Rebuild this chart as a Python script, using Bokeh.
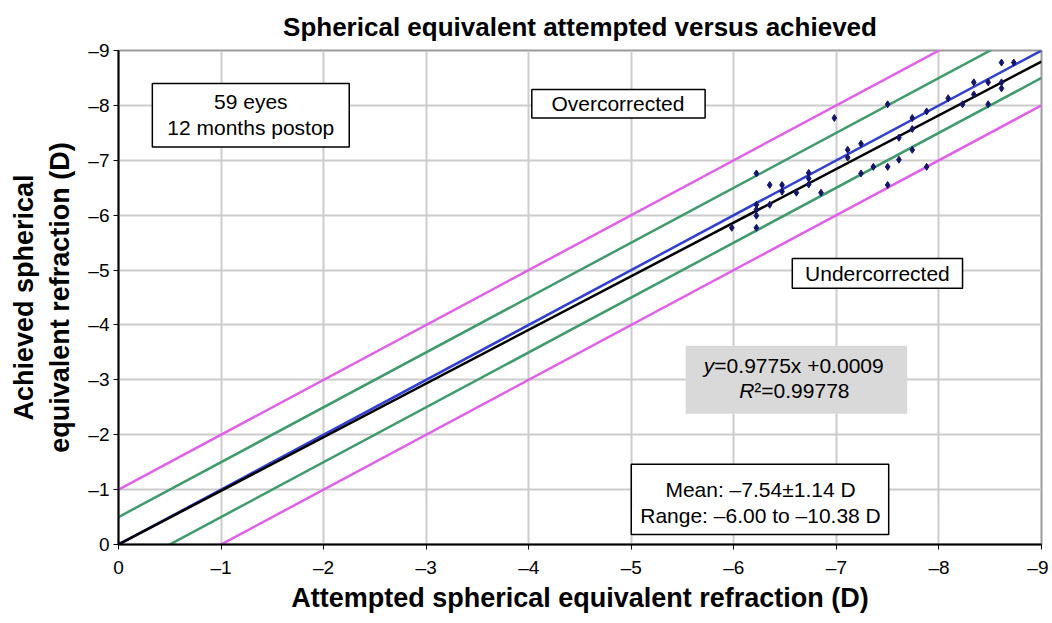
from bokeh.plotting import figure
from bokeh.models import FixedTicker, BoxAnnotation, Label
from bokeh.embed import file_html
from bokeh.resources import INLINE

# ---- data (attempted, achieved) shown as positive magnitudes, labelled negative ----
attempted = [0.00, 5.98, 6.22, 6.22, 6.22, 6.22, 6.22, 6.35, 6.35, 6.47, 6.47,
             6.61, 6.73, 6.73, 6.73, 6.85, 6.98, 7.11, 7.11, 7.24, 7.24, 7.36,
             7.50, 7.50, 7.50, 7.61, 7.61, 7.74, 7.74, 7.74, 7.88, 7.88, 8.09,
             8.23, 8.34, 8.34, 8.48, 8.48, 8.61, 8.61, 8.61, 8.73]
achieved = [0.00, 5.77, 5.77, 5.99, 6.10, 6.19, 6.76, 6.19, 6.55, 6.43, 6.55,
            6.41, 6.56, 6.67, 6.77, 6.41, 7.77, 7.05, 7.19, 6.76, 7.30, 6.88,
            6.55, 6.88, 8.02, 7.01, 7.41, 7.19, 7.57, 7.77, 6.88, 7.89, 8.13,
            8.02, 8.20, 8.42, 8.02, 8.42, 8.31, 8.42, 8.78, 8.78]

line_x = [0, 9]
slope = 0.9775
intercept = 0.0009
ticks = [0, 1, 2, 3, 4, 5, 6, 7, 8, 9]
tick_labels = ["0", "\u20131", "\u20132", "\u20133", "\u20134", "\u20135",
               "\u20136", "\u20137", "\u20138", "\u20139"]

FONT = "Liberation Sans"

p = figure(width=1048, height=615, x_range=(0, 9), y_range=(0, 9),
           output_backend="svg", toolbar_location=None,
           min_border_left=118, min_border_right=7,
           min_border_top=50, min_border_bottom=60)

p.title.text = "Spherical equivalent attempted versus achieved"
p.title.align = "center"
p.title.text_font = FONT
p.title.text_font_size = "26px"
p.title.text_font_style = "bold"
p.title.text_color = "black"
p.title.standoff = 18

p.outline_line_color = "#9a9a9a"
p.outline_line_width = 2
p.background_fill_color = "white"

for ax in (p.xaxis, p.yaxis):
    ax.ticker = FixedTicker(ticks=ticks)
    ax.major_label_overrides = {t: l for t, l in zip(ticks, tick_labels)}
    ax.major_label_text_font = FONT
    ax.major_label_text_font_size = "19px"
    ax.major_label_text_color = "black"
    ax.axis_line_color = "black"
    ax.axis_line_width = 2
    ax.major_tick_line_color = "black"
    ax.major_tick_out = 5
    ax.major_tick_in = 0
    ax.minor_tick_line_color = None
    ax.axis_label_text_font = FONT
    ax.axis_label_text_font_size = "27px"
    ax.axis_label_text_font_style = "bold"
    ax.axis_label_text_color = "black"

p.xaxis.axis_label = "Attempted spherical equivalent refraction (D)"
p.yaxis.axis_label = "Achieved spherical\nequivalent refraction (D)"
p.xaxis.major_label_standoff = 7
p.yaxis.major_label_standoff = 4
p.xaxis.axis_label_standoff = 2
p.yaxis.axis_label_standoff = 10

p.grid.grid_line_color = "#cccccc"
p.grid.grid_line_width = 2

# ---- reference lines ----
MAG = "#e060e8"
GRN = "#3f9a6c"
p.line(line_x, [x + 1 for x in line_x], color=MAG, line_width=2.5)
p.line(line_x, [x - 1 for x in line_x], color=MAG, line_width=2.5)
p.line(line_x, [x + 0.5 for x in line_x], color=GRN, line_width=2.5)
p.line(line_x, [x - 0.5 for x in line_x], color=GRN, line_width=2.5)
p.line(line_x, line_x, color="#2f3fd0", line_width=2.5)
p.line(line_x, [slope * x + intercept for x in line_x], color="black", line_width=2.5)

p.scatter(attempted, achieved, marker="diamond", size=7, color="#14146a")

# ---- annotation boxes ----
def box(l, r, t, b, fill="white", border="black"):
    p.add_layout(BoxAnnotation(left=l, right=r, top=t, bottom=b,
                               fill_color=fill, fill_alpha=1.0,
                               line_color=border, line_width=1.5, line_alpha=1.0,
                               level="overlay"))

def txt(x, y, s, align="center", style="normal", size="21px"):
    p.add_layout(Label(x=x, y=y, text=s, text_align=align, text_baseline="middle",
                       text_font=FONT, text_font_size=size, text_font_style=style,
                       text_color="black", level="overlay"))

box(0.33, 2.25, 8.40, 7.24)
txt(1.29, 8.07, "59 eyes")
txt(1.29, 7.60, "12 months postop")

box(4.03, 5.72, 8.29, 7.77)
txt(4.87, 8.03, "Overcorrected")

box(6.57, 8.23, 5.21, 4.67)
txt(7.40, 4.94, "Undercorrected")

box(5.53, 7.69, 3.62, 2.38, fill="#d9d9d9", border=None)
txt(5.81, 3.26, "y", align="right", style="italic")
txt(5.81, 3.26, "=0.9775x +0.0009", align="left")
txt(6.20, 2.81, "R", align="right", style="italic")
txt(6.20, 2.81, "\u00b2=0.99778", align="left")

box(5.00, 7.51, 1.46, 0.18)
txt(6.26, 1.01, "Mean: \u20137.54\u00b11.14 D")
txt(6.26, 0.52, "Range: \u20136.00 to \u201310.38 D")

open("out.html", "w").write(file_html(p, INLINE))
